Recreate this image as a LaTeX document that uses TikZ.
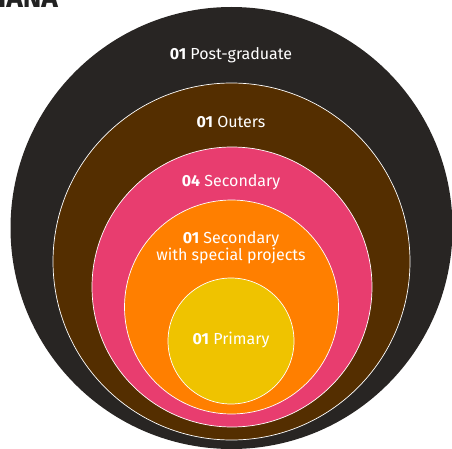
\documentclass[tikz,border=0pt]{standalone}
\usepackage{fontspec}
\setmainfont{Fira Sans}
\definecolor{cdark}{HTML}{282523}
\definecolor{cbrown}{HTML}{542E00}
\definecolor{cpink}{HTML}{E83D6F}
\definecolor{corange}{HTML}{FF7F00}
\definecolor{cyellow}{HTML}{EFC300}
\definecolor{ctitle}{HTML}{222222}
\begin{document}
\begin{tikzpicture}[x=1pt,y=1pt,
  ring/.style={circle,inner sep=0pt,minimum size=#1,draw=white,line width=0.7pt},
  lbl/.style={text=white,font=\fontsize{16}{17}\selectfont,align=center,inner sep=0pt}]
\useasboundingbox (0,0) rectangle (452,448);
\clip (0,0) rectangle (452,448);
\fill[white] (0,0) rectangle (452,448);
\node[ring=442pt,fill=cdark,draw=none] (post) at (231.5,220) {};
\node[ring=357pt,fill=cbrown] (outer) at (231.5,186.5) {};
\node[ring=280pt,fill=cpink] (sec) at (232,161) {};
\node[ring=214pt,fill=corange] (spec) at (231.5,141) {};
\node[ring=126pt,fill=cyellow] (prim) at (231,107) {};
\node[lbl] (tpost) at (231,393) {\textbf{01} Post-graduate};
\node[lbl] (touter) at (231,326) {\textbf{01} Outers};
\node[lbl] (tsec) at (231,266) {\textbf{04} Secondary};
\node[lbl] (tspec) at (231,200) {\textbf{01} Secondary\\with special projects};
\node[lbl] (tprim) at (231,108) {\textbf{01} Primary};
\node[anchor=base west,inner sep=0pt,text=ctitle,font=\fontsize{28}{30}\selectfont\bfseries] (title) at (-2,440) {IANA};
\end{tikzpicture}
\end{document}
